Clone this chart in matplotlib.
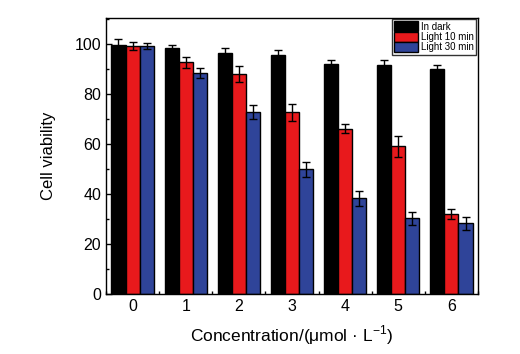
import matplotlib
matplotlib.use("Agg")
import matplotlib.pyplot as plt
import numpy as np
from matplotlib.ticker import MultipleLocator

plt.rcParams['font.family'] = ['Liberation Sans', 'DejaVu Sans']

categories = ["0", "1", "2", "3", "4", "5", "6"]
series_names = ["In dark", "Light 10 min", "Light 30 min"]
dark = [99.8, 98.5, 96.3, 95.6, 92.2, 91.5, 90.2]
dark_err = [2.4, 1.2, 2.2, 2.2, 1.4, 2.2, 1.6]
light10 = [99.2, 92.7, 87.9, 72.7, 66.2, 59.1, 31.9]
light10_err = [1.5, 2.2, 3.2, 3.5, 1.8, 4.2, 2.0]
light30 = [99.2, 88.3, 72.7, 49.9, 38.3, 30.3, 28.3]
light30_err = [1.3, 2.0, 2.8, 3.0, 3.0, 2.5, 2.6]

colors = ["#000000", "#E8191C", "#2F4499"]

fig = plt.figure(figsize=(5.2, 3.54), dpi=100)
ax = fig.add_axes([106/520, 1-294/354, (478-106)/520, (294-18)/354])

x = np.arange(len(categories))
w = 0.265
for i, (vals, errs) in enumerate([(dark, dark_err), (light10, light10_err), (light30, light30_err)]):
    ax.bar(x + (i-1)*w, vals, w, color=colors[i], edgecolor='black', linewidth=1.0,
           label=series_names[i], yerr=errs, capsize=3,
           error_kw=dict(ecolor='black', elinewidth=1.0, capthick=1.0), zorder=2)

ax.set_xlim(-0.5, 6.5)
ax.set_ylim(0, 110.4)
ax.set_xticks(x)
ax.set_xticklabels(categories)
ax.xaxis.set_minor_locator(MultipleLocator(0.5))
ax.yaxis.set_major_locator(MultipleLocator(20))
ax.yaxis.set_minor_locator(MultipleLocator(10))
ax.tick_params(which='both', direction='in', labelsize=11.5, width=1.0)
ax.tick_params(which='major', length=4)
ax.tick_params(which='minor', length=2.5)
ax.tick_params(top=False, right=False)
for s in ax.spines.values():
    s.set_linewidth(1.0)

ax.set_ylabel("Cell viability", fontsize=12, labelpad=13)
ax.set_xlabel("Concentration/(\u03bcmol \u00b7 L$^{\\mathregular{-1}}$)", fontsize=12.5, labelpad=7)

leg = ax.legend(loc='upper right', bbox_to_anchor=(476/520, 1-19/354),
                bbox_transform=fig.transFigure, fontsize=7, frameon=True, fancybox=False,
                edgecolor='black', handlelength=2.5, handleheight=1.2,
                handletextpad=0.25, borderpad=0.25, labelspacing=0.0,
                borderaxespad=0.0)
leg.get_frame().set_linewidth(1.0)

fig.savefig("out.png", dpi=100)
